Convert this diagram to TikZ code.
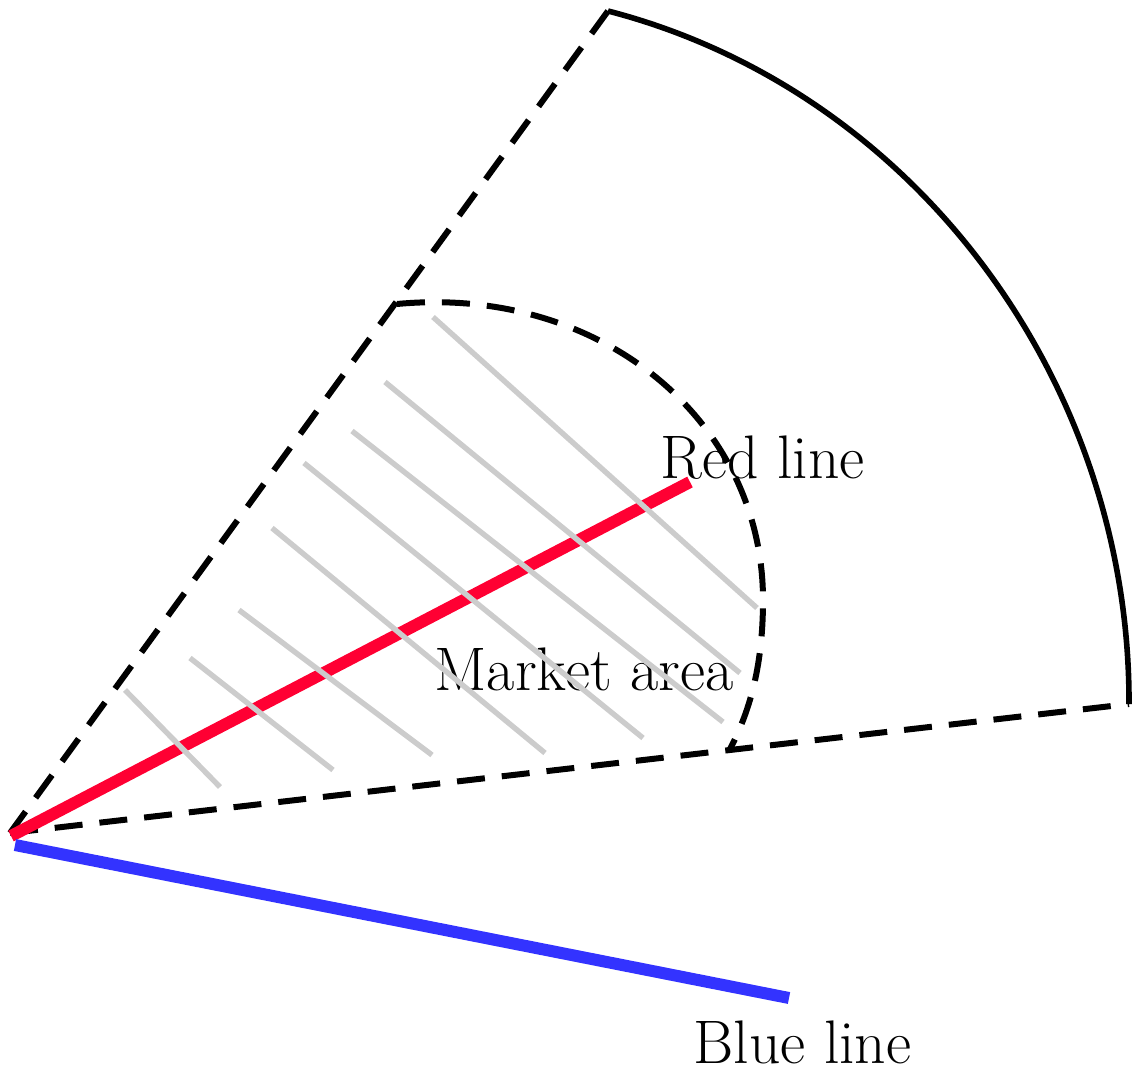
\documentclass[tikz,border=0pt]{standalone}
\usepackage{fontspec}
\setmainfont{Latin Modern Roman}
\definecolor{redline}{RGB}{255,0,51}
\definecolor{blueline}{RGB}{51,51,255}
\definecolor{hatch}{RGB}{204,204,204}
\tikzset{
  dashline/.style={line width=6pt, dash pattern=on 28pt off 17pt, line cap=butt},
  arcline/.style={line width=5.6pt},
  hatchline/.style={hatch, line width=5.4pt},
  thick colour/.style={line width=12pt},
  lbl/.style={anchor=base, inner sep=0pt, font=\fontsize{61.5}{72}\selectfont}
}
\begin{document}
\begin{tikzpicture}[x=1pt,y=-1pt]
\useasboundingbox (0,0) rectangle (1132,1075);
\coordinate (O) at (10,833);
\coordinate (T) at (608,11);
\coordinate (E) at (1129,704);
\coordinate (Ci) at (397,304);
\coordinate (Cm) at (763,600);
\coordinate (Co) at (729,751);
% sector
\draw[dashline] (T) -- (O);
\draw[dashline] (O) -- (E);
\draw[arcline] (T) .. controls (917,91) and (1130,384) .. (E);
% inner market boundary
\draw[dashline] (Ci) .. controls (600,285) and (763,420) .. (Cm)
  .. controls (763,670) and (748,715) .. (Co);
% labels
\node[lbl] (rl) at (762.5,478) {Red line};
\node[lbl] (ma) at (584,690) {Market area};
\node[lbl] (bl) at (802.5,1063) {Blue line};
% red and blue lines
\coordinate (R0) at (11,836);
\coordinate (R1) at (690,482);
\coordinate (B0) at (15,845);
\coordinate (B1) at (789,998);
\draw[redline, thick colour] (R0) -- (R1);
\draw[blueline, thick colour] (B0) -- (B1);
% hatching
\draw[hatchline] (433,317) -- (757,608);
\draw[hatchline] (385,382) -- (740,673);
\draw[hatchline] (352,431) -- (723,722);
\draw[hatchline] (304,463) -- (643,738);
\draw[hatchline] (272,528) -- (545,753);
\draw[hatchline] (239,610) -- (432,755);
\draw[hatchline] (190,658) -- (333,770);
\draw[hatchline] (125,690) -- (220,787);
\end{tikzpicture}
\end{document}
